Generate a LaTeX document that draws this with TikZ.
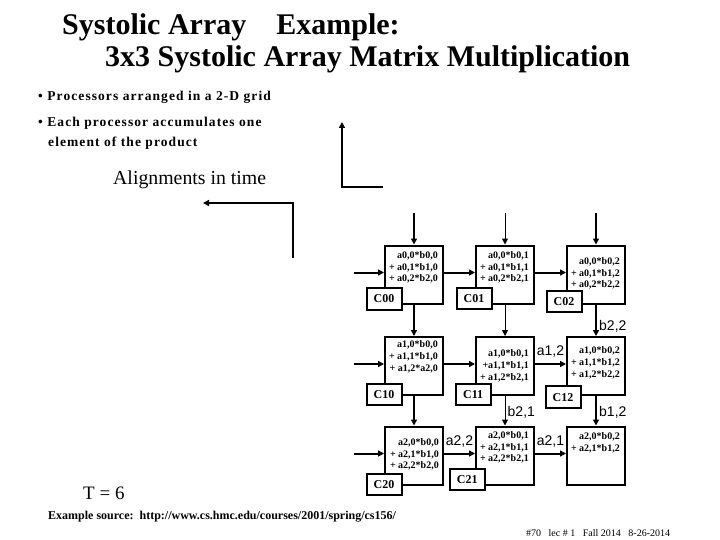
\documentclass[tikz,border=0pt]{standalone}
\usepackage{fontspec}
\setmainfont{Liberation Serif}
\setsansfont{Liberation Sans}
\newfontfamily\trackedfont[LetterSpace=8]{Liberation Serif}
\usetikzlibrary{arrows.meta, positioning, calc}

\begin{document}
\begin{tikzpicture}[
    x=1pt, y=-1pt,
    pe/.style={draw, line width=2pt, minimum width=58pt, minimum height=58pt, inner sep=0pt},
    sum/.style={anchor=north east, align=right, inner sep=0pt, font=\bfseries\fontsize{10}{11.7}\selectfont},
    cell/.style={draw, fill=white, line width=2pt, minimum width=35pt, minimum height=21.5pt, inner sep=0pt, font=\bfseries\fontsize{12}{12}\selectfont},
    tag/.style={font=\sffamily\fontsize{14}{14}\selectfont, inner sep=0pt},
    txt/.style={anchor=base west, inner sep=0pt},
    flow/.style={-{Triangle[length=6pt, width=6pt]}, line width=2pt},
    thinflow/.style={-{Triangle[length=6pt, width=6pt]}, line width=1pt}
]
\useasboundingbox (0,0) rectangle (720,540);

% Title and bullets
\node[txt, font=\bfseries\fontsize{30}{30}\selectfont] (title1) at (62,35) {Systolic Array\hspace{30pt}Example:};
\node[txt, font=\bfseries\fontsize{30}{30}\selectfont] (title2) at (105,67) {3x3 Systolic Array Matrix Multiplication};
\node[txt, font=\trackedfont\bfseries\fontsize{13.5}{13.5}\selectfont] (pt1) at (38,100.7) {• Processors arranged in a 2-D grid};
\node[txt, font=\trackedfont\bfseries\fontsize{13.5}{13.5}\selectfont] (pt2) at (38,126.7) {• Each processor accumulates one};
\node[txt, font=\trackedfont\bfseries\fontsize{13.5}{13.5}\selectfont] (pt2b) at (48,146.7) {element of the product};
\node[txt, font=\fontsize{19.8}{19.8}\selectfont] (align) at (113,185) {Alignments in time};

% Time alignment arrows
\coordinate (up0) at (342,122);
\coordinate (up1) at (342,187);
\coordinate (up2) at (383,187);
\draw[flow] (up2) -- (up1) -- (up0);
\coordinate (lt0) at (203,203);
\coordinate (lt1) at (293,203);
\coordinate (lt2) at (293,258);
\draw[flow] (lt2) -- (lt1) -- (lt0);

% Row 0
\node[pe] (p00) at (414,274.5) {};
\node[pe] (p01) at (505,274.5) {};
\node[pe] (p02) at (596,274.5) {};
\node[sum] at ([xshift=-6pt, yshift=-6.7pt]p00.north east) {a0,0*b0,0\\+ a0,1*b1,0\\+ a0,2*b2,0};
\node[sum] at ([xshift=-6pt, yshift=-6.7pt]p01.north east) {a0,0*b0,1\\+ a0,1*b1,1\\+ a0,2*b2,1};
\node[sum] at ([xshift=-6pt, yshift=-12.7pt]p02.north east) {a0,0*b0,2\\+ a0,1*b1,2\\+ a0,2*b2,2};

% Row 1
\node[pe] (p10) at (414,366) {};
\node[pe] (p11) at (505,366) {};
\node[pe] (p12) at (596,366) {};
\node[sum] at ([xshift=-6pt, yshift=-4.7pt]p10.north east) {a1,0*b0,0\\+ a1,1*b1,0\\+ a1,2*a2,0};
\node[sum] at ([xshift=-6pt, yshift=-13.7pt]p11.north east) {a1,0*b0,1\\+a1,1*b1,1\\+ a1,2*b2,1};
\node[sum] at ([xshift=-6pt, yshift=-10.7pt]p12.north east) {a1,0*b0,2\\+ a1,1*b1,2\\+ a1,2*b2,2};

% Row 2
\node[pe] (p20) at (414,455.5) {};
\node[pe] (p21) at (505,455.5) {};
\node[pe] (p22) at (596,455.5) {};
\node[sum] at ([xshift=-5pt, yshift=-12.7pt]p20.north east) {a2,0*b0,0\\+ a2,1*b1,0\\+ a2,2*b2,0};
\node[sum] at ([xshift=-6pt, yshift=-5.7pt]p21.north east) {a2,0*b0,1\\+ a2,1*b1,1\\+ a2,2*b2,1};
\node[sum] at ([xshift=-6pt, yshift=-6.7pt]p22.north east) {a2,0*b0,2\\+ a2,1*b1,2};

% Result cells
\node[cell] (c00) at ([yshift=5.5pt]p00.south west) {C00};
\node[cell] (c01) at ([xshift=-1pt, yshift=6pt]p01.south west) {C01};
\node[cell] (c02) at ([xshift=-2pt, yshift=3pt]p02.south west) {C02};
\node[cell] (c10) at ([yshift=1.3pt]p10.south west) {C10};
\node[cell] (c11) at ([xshift=-1.8pt, yshift=1.7pt]p11.south west) {C11};
\node[cell] (c12) at ([xshift=-3pt, yshift=-1.2pt]p12.south west) {C12};
\node[cell] (c20) at ([yshift=1.2pt]p20.south west) {C20};
\node[cell] (c21) at ([xshift=-7.7pt, yshift=6pt]p21.south west) {C21};

% Inputs from the top and the left
\coordinate (top0) at (414,213);
\coordinate (top1) at (505,213);
\coordinate (top2) at (596,213);
\draw[flow] (top0) -- (p00);
\draw[thinflow] (top1) -- (p01);
\draw[flow] (top2) -- (p02);
\coordinate (left0) at (354,272.5);
\coordinate (left1) at (354,364);
\coordinate (left2) at (354,453.5);
\draw[flow] (left0) -- (left0 -| p00.west);
\draw[flow] (left1) -- (left1 -| p10.west);
\draw[flow] (left2) -- (left2 -| p20.west);

% Links between processors
\draw[flow] ([yshift=2pt]p00.east) -- ([yshift=2pt]p01.west);
\draw[flow] ([yshift=2pt]p01.east) -- ([yshift=2pt]p02.west);
\draw[flow] ([yshift=2pt]p10.east) -- ([yshift=2pt]p11.west);
\draw[flow] ([yshift=2pt]p11.east) -- ([yshift=2pt]p12.west);
\draw[flow] ([yshift=2pt]p20.east) -- ([yshift=2pt]p21.west);
\draw[flow] ([yshift=2pt]p21.east) -- ([yshift=2pt]p22.west);
\draw[flow] (p00) -- (p10);
\draw[thinflow] (p01) -- (p11);
\draw[flow] (p02) -- (p12);
\draw[flow] (p10) -- (p20);
\draw[thinflow] (p11) -- (p21);
\draw[flow] (p12) -- (p22);

% Values in flight
\node[tag, anchor=west] (b22) at ([xshift=3pt, yshift=10pt]p12.north) {b2,2};
\node[tag] (a12) at ([yshift=14pt]$(p11.east)!0.5!(p12.west)$) {a1,2};
\node[tag, anchor=west] (b21) at ([xshift=2.5pt, yshift=13pt]p21.north) {b2,1};
\node[tag, anchor=west] (b12) at ([xshift=3pt, yshift=13pt]p22.north) {b1,2};
\node[tag] (a22) at ([yshift=13.5pt]$(p20.east)!0.5!(p21.west)$) {a2,2};
\node[tag] (a21) at ([yshift=13.5pt]$(p21.east)!0.5!(p22.west)$) {a2,1};

% Footer
\node[txt, font=\fontsize{19}{19}\selectfont] (time) at (83,499.5) {T = 6};
\node[txt, font=\bfseries\fontsize{12}{12}\selectfont] (src) at (48,519) {Example source:\ \ http://www.cs.hmc.edu/courses/2001/spring/cs156/};
\node[txt, font=\fontsize{10}{10}\selectfont] (foot) at (526,536.5) {\#70\ \ \ lec \# 1\ \ \ Fall 2014\ \ \ 8-26-2014};

\end{tikzpicture}
\end{document}
